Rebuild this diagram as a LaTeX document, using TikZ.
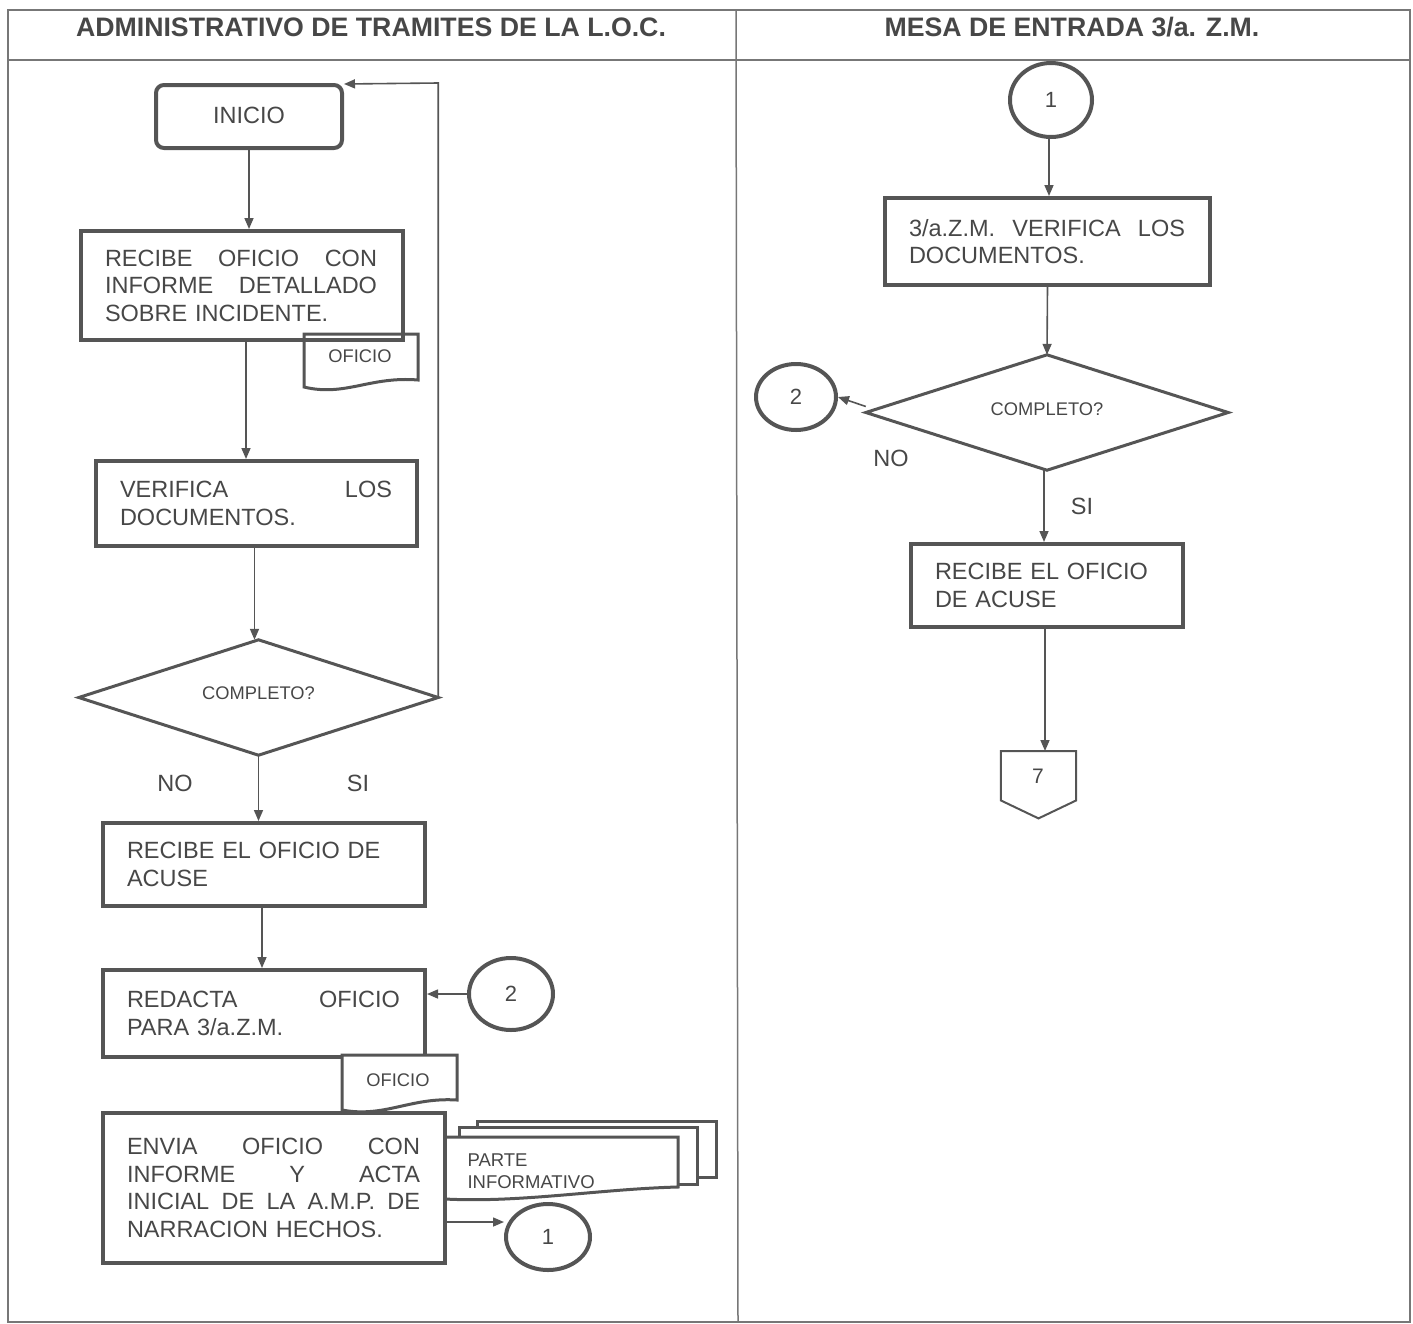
\documentclass[tikz,border=0pt]{standalone}
\usepackage{fontspec}
\setmainfont{Liberation Sans}
\usetikzlibrary{arrows.meta,shapes.geometric,calc}
\definecolor{ln}{HTML}{555555}
\definecolor{tx}{HTML}{474747}
\newcommand{\spr}[2]{\leavevmode\hbox to #1{#2}}
\newcommand{\boxtail}{\endgraf\vskip7pt}
\begin{document}
\begin{tikzpicture}[x=1pt,y=-1pt,
  every node/.style={text=tx, font=\fontsize{23.5}{27.5}\selectfont},
  small/.style={font=\fontsize{18.3}{22}\selectfont},
  head/.style={font=\bfseries\fontsize{26.7}{30}\selectfont},
  procbox/.style={draw=ln, line width=4pt, rectangle, anchor=north west, inner xsep=24pt, inner ysep=0pt, align=left,
    execute at end node=\boxtail},
  decision/.style={rectangle, inner sep=0pt, small},
  decline/.style={draw=ln, line width=3pt, line join=miter},
  connector/.style={ellipse, draw=ln, line width=4pt, inner sep=0pt, font=\fontsize{22}{26}\selectfont},
  docshape/.style={draw=ln, line width=3pt, fill=white},
  frame/.style={draw=ln!80, line width=1.5pt},
  arr/.style={draw=ln, line width=1.6pt, -{Triangle[length=11pt,width=9pt]}}]
\useasboundingbox (0,0) rectangle (1413,1323);
% frame
\draw[frame] (8,10) rectangle (1410,1322);
\draw[frame] (8,60) -- (1410,60);
\draw[frame] (736,10) -- (738,1322);
\node[head] (h1) at (371,27) {ADMINISTRATIVO DE TRAMITES DE LA L.O.C.};
\node[head] (h2) at (1072,27) {MESA DE ENTRADA 3/a. Z.M.};

% ---------- left column
\node[draw=ln, line width=4pt, rounded corners=8pt, minimum width=186pt, minimum height=63pt, anchor=north west, inner sep=0pt] (ini) at (154,83) {\raisebox{3pt}{INICIO}};

% document OFICIO 1
\node[small, minimum width=114pt, minimum height=52pt, anchor=north west, inner sep=0pt] (doc1) at (304,334) {};
\draw[docshape] (304,334) -- (418,334) -- (418,380) .. controls (370,376) and (345,397) .. (304,387) -- cycle;
\node[small] (doc1t) at (360,356) {OFICIO};

\node[procbox, minimum width=322pt, minimum height=109pt, text width=274pt] (b1) at (79,229)
  {\spr{272pt}{RECIBE\hfill OFICIO\hfill CON}\\\spr{272pt}{INFORME\hfill DETALLADO}\\SOBRE INCIDENTE.};

\node[procbox, minimum width=321pt, minimum height=85pt, text width=273pt] (b2) at (94,459)
  {\spr{272pt}{VERIFICA\hfill LOS}\\DOCUMENTOS.};

\node[decision, minimum width=359pt, minimum height=115pt] (d1) at (258.5,697.5) {\raisebox{9pt}{COMPLETO?}};
\draw[decline] (d1.north) -- (d1.east) -- (d1.south) -- (d1.west) -- cycle;

\node (no1) at (175,783) {NO};
\node (si1) at (358,783) {SI};

\node[procbox, minimum width=322pt, minimum height=83pt, text width=274pt] (b3) at (101,821)
  {RECIBE EL OFICIO DE\\ACUSE};

\node[procbox, minimum width=322pt, minimum height=87pt, text width=274pt] (b4) at (101,968)
  {\spr{273pt}{REDACTA\hfill OFICIO}\\PARA 3/a.Z.M.};

\node[connector, minimum width=84pt, minimum height=72pt] (c2l) at (511,994) {2};

% document OFICIO 2
\node[small, minimum width=115pt, minimum height=55pt, anchor=north west, inner sep=0pt] (doc2) at (342,1055) {};
\draw[docshape] (342,1055) -- (457,1055) -- (457,1100) .. controls (410,1097) and (385,1118) .. (342,1110) -- cycle;
\node[small] (doc2t) at (398,1080) {OFICIO};

% multi-document PARTE INFORMATIVO
\draw[docshape] (477,1121) rectangle (716,1177);
\draw[docshape] (459,1127) rectangle (697,1184);
\node[minimum width=233pt, minimum height=60pt, anchor=north west, inner sep=0pt] (pi) at (445,1137) {};
\draw[docshape] (445,1137) -- (678,1137) -- (678,1187) .. controls (600,1189) and (520,1203) .. (445,1199) -- cycle;
\node[small, anchor=west, align=left, font=\fontsize{18.5}{22}\selectfont] (pit) at (464,1171) {PARTE\\INFORMATIVO};

\node[procbox, minimum width=342pt, minimum height=150pt, text width=294pt] (b5) at (101,1111)
  {\spr{293pt}{ENVIA\hfill OFICIO\hfill CON}\\\spr{293pt}{INFORME\hfill Y\hfill ACTA}\\\spr{293pt}{INICIAL\hfill DE\hfill LA\hfill A.M.P.\hfill DE}\\NARRACION HECHOS.};

\node[connector, minimum width=84pt, minimum height=66pt] (c1l) at (548,1237) {1};

% left connectors
\draw[arr] (ini.south) -- (ini.south |- b1.north);
\draw[arr] ([xshift=4pt]b1.south) -- ([xshift=4pt]b1.south |- b2.north);
\draw[arr] ([xshift=-2pt]b2.south) -- ([xshift=-2pt]b2.south |- d1.north);
\draw[arr] (d1.south) -- (d1.south |- b3.north);
\draw[arr] ([xshift=-2pt]b3.south) -- ([xshift=-2pt]b3.south |- b4.north);
\draw[arr] (d1.east) -- (d1.east |- ini.north) -- ([yshift=-1pt]ini.north east);
\draw[arr] (c2l.west) -- (c2l.west -| b4.east);
\draw[arr] ([yshift=-34pt]b5.east) -- ([yshift=-34pt]b5.east -| c1l.west);

% ---------- right column
\node[connector, minimum width=82pt, minimum height=74pt] (c1r) at (1051,100) {1};

\node[procbox, minimum width=325pt, minimum height=87pt, text width=277pt] (b6) at (883,196)
  {\spr{276pt}{3/a.Z.M.\hfill VERIFICA\hfill LOS}\\DOCUMENTOS.};

\node[decision, minimum width=362pt, minimum height=115pt] (d2) at (1047,412.5) {\raisebox{6pt}{COMPLETO?}};
\draw[decline] (d2.north) -- (d2.east) -- (d2.south) -- (d2.west) -- cycle;

\node[connector, minimum width=80pt, minimum height=66pt] (c2r) at (796,397) {2};

\node (no2) at (891,458) {NO};
\node (si2) at (1082,506) {SI};

\node[procbox, minimum width=272pt, minimum height=83pt, text width=224pt] (b7) at (909,542)
  {RECIBE EL OFICIO\\DE ACUSE};

% off-page connector 7
\node[minimum width=75pt, minimum height=67pt, anchor=north, inner sep=0pt] (p7) at (1038.5,751) {};
\draw[draw=ln, line width=2pt, line join=miter] (p7.north west) -- (p7.north east) -- ($(p7.south east)+(0,-18)$) -- (p7.south) -- ($(p7.south west)+(0,-18)$) -- cycle;
\node[font=\fontsize{21}{25}\selectfont] (p7t) at (1038,776) {7};

% right connectors
\draw[arr] ([xshift=-2pt]c1r.south) -- ([xshift=-2pt]c1r.south |- b6.north);
\draw[arr] (b6.south) -- (d2.north);
\draw[arr] ([xshift=-3pt]d2.south) -- ([xshift=-3pt]d2.south |- b7.north);
\draw[arr] ([xshift=-2pt]b7.south) -- ([xshift=-2pt]b7.south |- p7.north);
\draw[arr] ([yshift=6pt]d2.west) -- (c2r.east);
\end{tikzpicture}
\end{document}
